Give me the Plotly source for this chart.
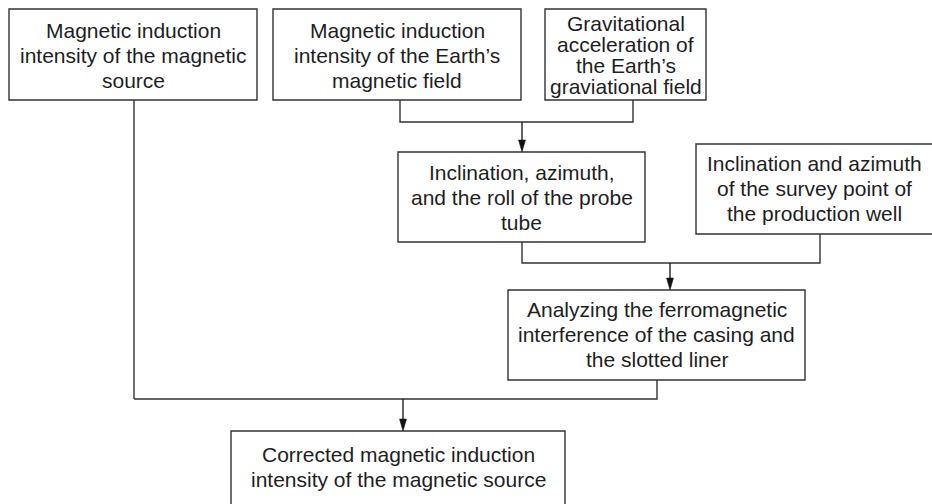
import plotly.graph_objects as go

# Box texts (one entry per line)
box_texts = [
    ["Magnetic induction", "intensity of the magnetic", "source"],
    ["Magnetic induction", "intensity of the Earth\u2019s", "magnetic field"],
    ["Gravitational", "acceleration of", "the Earth\u2019s", "graviational field"],
    ["Inclination, azimuth,", "and the roll of the probe", "tube"],
    ["Inclination and azimuth", "of the survey point of", "the production well"],
    ["Analyzing the ferromagnetic", "interference of the casing and", "the slotted liner"],
    ["Corrected magnetic induction", "intensity of the magnetic source"],
]

# Layout geometry (pixels): x0, y0, x1, y1, text centre y, line spacing
box_geom = [
    (9, 9, 257, 100, 55, 25),
    (273, 9, 521, 100, 55, 25),
    (545, 9, 706, 100, 55, 21),
    (398, 152, 645, 242, 197, 25),
    (696, 144, 936, 234, 188, 25),
    (508, 290, 805, 380, 334, 25),
    (231, 431, 565, 530, 467, 25),
]

# Connector polylines and arrows (pixels)
connectors = [
    [(134, 100), (134, 399)],
    [(400, 100), (400, 122), (633, 122), (633, 100)],
    [(522, 242), (522, 263), (820, 263), (820, 234)],
    [(657, 380), (657, 399), (134, 399)],
]
arrows = [
    (522, 122, 152),
    (670, 263, 290),
    (403, 399, 431),
]

LINE = "#333333"
TEXT = "#1e1e1e"
FONT = "Liberation Sans, Arial, Helvetica, sans-serif"

fig = go.Figure()
shapes = []
annotations = []

for (x0, y0, x1, y1, cy, sp), lines in zip(box_geom, box_texts):
    shapes.append(dict(type="rect", xref="x", yref="y", x0=x0, y0=y0, x1=x1, y1=y1,
                       line=dict(color=LINE, width=1.4), fillcolor="white", layer="below"))
    n = len(lines)
    cx = (x0 + min(x1, 932)) / 2
    for i, t in enumerate(lines):
        yy = cy + (i - (n - 1) / 2) * sp
        annotations.append(dict(x=cx, y=yy, xref="x", yref="y", text=t, showarrow=False,
                                xanchor="center", yanchor="middle",
                                font=dict(family=FONT, size=21, color=TEXT)))

for pts in connectors:
    path = "M " + " L ".join(f"{x},{y}" for x, y in pts)
    shapes.append(dict(type="path", xref="x", yref="y", path=path,
                       line=dict(color=LINE, width=1.4)))

for x, ys, ye in arrows:
    shapes.append(dict(type="line", xref="x", yref="y", x0=x, y0=ys, x1=x, y1=ye - 6,
                       line=dict(color="#222222", width=1.4)))
    shapes.append(dict(type="path", xref="x", yref="y",
                       path=f"M {x-3.5},{ye-12} L {x+3.5},{ye-12} L {x},{ye} Z",
                       fillcolor="#111111", line=dict(color="#111111", width=0.5)))

fig.update_layout(
    width=932, height=504,
    margin=dict(l=0, r=0, t=0, b=0),
    paper_bgcolor="white", plot_bgcolor="white",
    xaxis=dict(range=[0, 932], visible=False, fixedrange=True),
    yaxis=dict(range=[504, 0], visible=False, fixedrange=True),
    shapes=shapes, annotations=annotations,
    showlegend=False,
)

fig.write_html("out.html", config={"displayModeBar": False},
               post_script="document.body.style.margin='0';document.body.style.overflow='hidden';")
